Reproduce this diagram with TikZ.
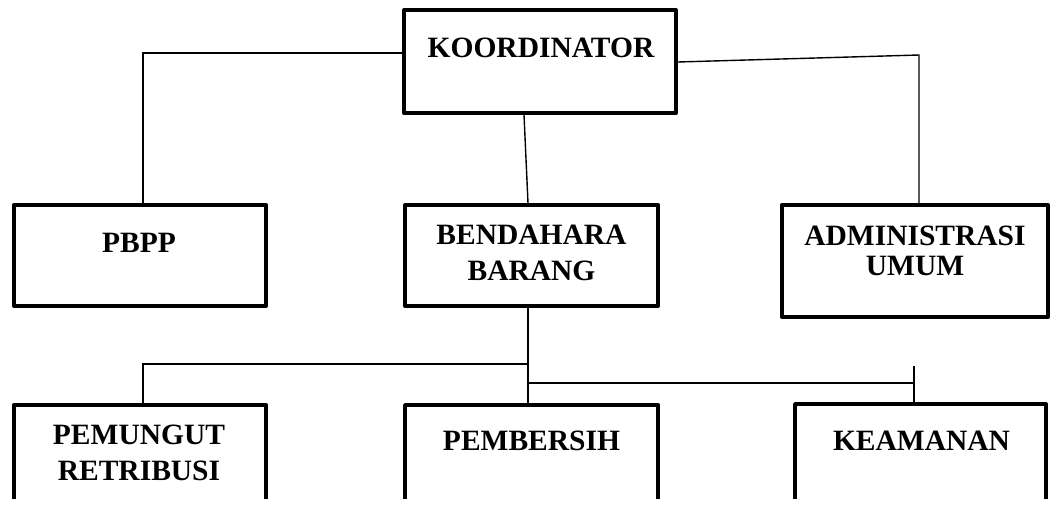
\documentclass[tikz,border=0pt]{standalone}
\usepackage{fontspec}
\setmainfont{Liberation Serif}
\begin{document}
\begin{tikzpicture}[x=1pt,y=-1pt,
  box/.style={draw=black,line width=3.9pt,line join=round,rectangle,inner sep=0pt},
  conn/.style={draw=black,line width=1.4pt},
  lbl/.style={anchor=north,inner sep=0pt,align=center,font=\bfseries\fontsize{29.5}{36}\selectfont}]
\useasboundingbox (0,0) rectangle (1059,506);
% boxes
\node[box,minimum width=272pt,minimum height=103pt] (koord) at (540,61.5) {};
\node[box,minimum width=252pt,minimum height=101pt] (pbpp) at (140,255.5) {};
\node[box,minimum width=253pt,minimum height=101pt] (bend) at (531.5,255.5) {};
\node[box,minimum width=266pt,minimum height=112pt] (admin) at (915,261) {};
\begin{scope}
\clip (0,0) rectangle (1059,498);
\node[box,minimum width=252pt,minimum height=112pt] (pemu) at (140,461) {};
\node[box,minimum width=253pt,minimum height=112pt] (pemb) at (531.5,461) {};
\node[box,minimum width=251pt,minimum height=114pt] (keam) at (920.5,461) {};
\end{scope}
% texts
\node[lbl] (koordT) at (541,37.5) {KOORDINATOR};
\node[lbl] (pbppT) at (139,232.5) {PBPP};
\node[lbl] (bendT) at (531.5,224.5) {BENDAHARA\\BARANG};
\node[lbl,font=\bfseries\fontsize{29.5}{30}\selectfont] (adminT) at (915,225.5) {ADMINISTRASI\\UMUM};
\node[lbl] (pemuT) at (139,424.5) {PEMUNGUT\\RETRIBUSI};
\node[lbl] (pembT) at (531.5,430.5) {PEMBERSIH};
\node[lbl] (keamT) at (921.5,430.5) {KEAMANAN};
% connector coordinates
\coordinate (c1) at (143,53);
\coordinate (c2) at (919,55);
\coordinate (c3) at (0,62);
\coordinate (m1) at (524,0);
\coordinate (m2) at (528,0);
\coordinate (h1) at (143,364);
\coordinate (h2) at (528,383);
\coordinate (h3) at (914,383);
\coordinate (h4) at (914,366);
% connectors
\draw[conn] (koord.west |- c1) -- (c1) -- (c1 |- pbpp.north);
\draw[conn] (koord.east |- c3) -- (c2) -- (c2 |- admin.north);
\draw[conn] (koord.south -| m1) -- (bend.north -| m2);
\draw[conn] (bend.south -| m2) -- (pemb.north -| m2);
\draw[conn] (h1 -| m2) -- (h1) -- (pemu.north -| h1);
\draw[conn] (h2) -- (h3);
\draw[conn] (h4) -- (keam.north -| h4);
\end{tikzpicture}
\end{document}
